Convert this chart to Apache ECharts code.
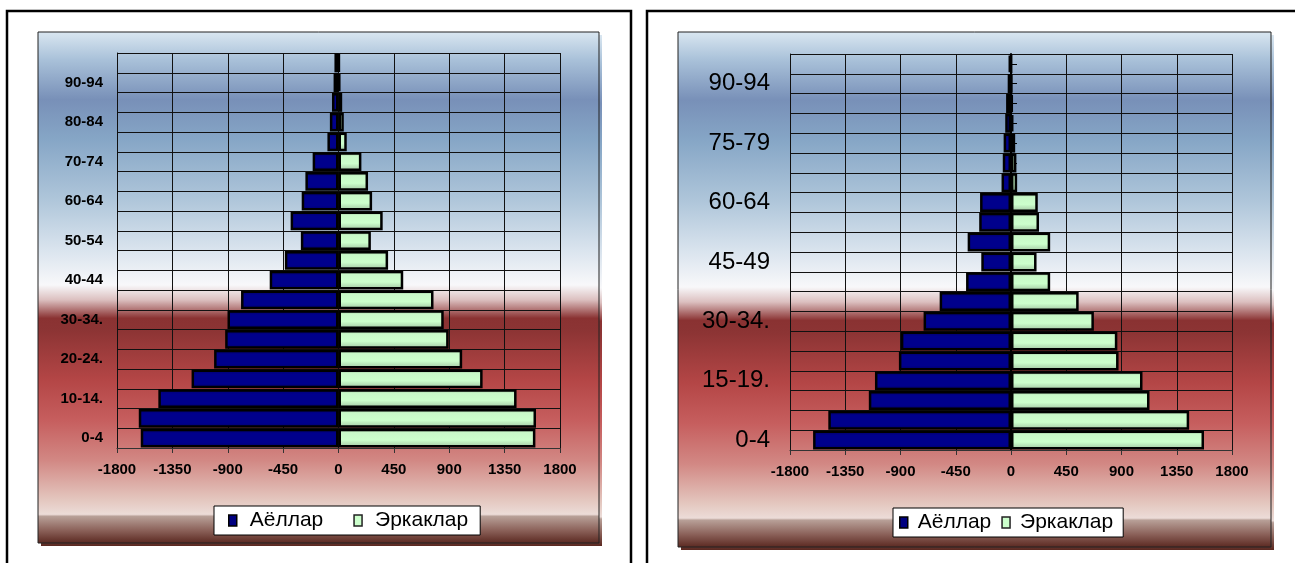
<!DOCTYPE html>
<html><head><meta charset="utf-8">
<script src="https://cdn.jsdelivr.net/npm/echarts@6/dist/echarts.min.js"></script>
<style>html,body{margin:0;padding:0;background:#fff}#c{width:1295px;height:563px}</style>
</head><body><div id="c"></div>
<script>
// ---- data ----
const ageGroups = ["0-4","5-9.","10-14.","15-19.","20-24.","25-29.","30-34.","35-39","40-44","45-49","50-54","55-59","60-64","65-69","70-74","75-79","80-84","85-89","90-94","95-99"];
const seriesNames = ["Аёллар","Эркаклар"];
const leftWomen = [-1607,-1623,-1464,-1194,-1011,-921,-902,-792,-559,-436,-306,-389,-299,-269,-210,-90,-70,-53,-40,-33];
const leftMen   = [1600,1605,1447,1171,1005,895,855,772,526,403,263,359,273,240,186,67,43,30,13,7];
const rightWomen = [-1612,-1488,-1158,-1108,-913,-897,-712,-581,-366,-242,-353,-259,-252,-77,-67,-60,-47,-40,-27,-20];
const rightMen   = [1572,1451,1128,1071,876,866,675,551,319,208,319,228,218,50,44,34,20,13,7,3];
const xMin = -1800, xMax = 1800, xStep = 450;

const FONT = "Liberation Sans, Arial, sans-serif";
const G = echarts.graphic;
function panelGrad(){
  return new G.LinearGradient(0,0,0,1,[
    {offset:0,color:'#dae7f1'},{offset:0.055,color:'#a9c1d9'},{offset:0.133,color:'#7890b8'},
    {offset:0.211,color:'#86a6c6'},{offset:0.329,color:'#afc6da'},{offset:0.427,color:'#dae4ee'},
    {offset:0.495,color:'#f8f8fa'},{offset:0.524,color:'#dcc0c0'},{offset:0.56,color:'#8a3232'},
    {offset:0.583,color:'#8c3434'},{offset:0.681,color:'#b44646'},{offset:0.759,color:'#c65e5e'},
    {offset:0.838,color:'#d28884'},{offset:0.916,color:'#e4c8c0'},{offset:0.943,color:'#ecdcd8'},
    {offset:0.947,color:'#b8a098'},{offset:0.975,color:'#8a6058'},{offset:1,color:'#5a2820'}]);
}
const blueFill = new G.LinearGradient(0,0,0,1,[{offset:0,color:'#000060'},{offset:0.25,color:'#00008c'},{offset:0.75,color:'#00008c'},{offset:1,color:'#000060'}]);
const greenFill = new G.LinearGradient(0,0,0,1,[{offset:0,color:'#7a9a7a'},{offset:0.2,color:'#c8f8c8'},{offset:0.6,color:'#ccffcc'},{offset:0.85,color:'#b0d8b0'},{offset:1,color:'#6f8f6f'}]);

function panel(x,y,w,h){
  return [
    {type:'rect', z:-20, shape:{x:x+3,y:y+3,width:w,height:h}, style:{fill:panelGrad()}},
    {type:'rect', z:-19, shape:{x:x,y:y,width:w,height:h}, style:{fill:panelGrad(), stroke:'#222', lineWidth:1}}
  ];
}

function xAxisCfg(grid){
  return {type:'value', gridIndex:grid, min:xMin, max:xMax, interval:xStep,
    axisLine:{show:true, onZero:false, lineStyle:{color:'#333', width:1}},
    axisTick:{show:true, length:5, lineStyle:{color:'#333'}},
    axisLabel:{color:'#000', fontWeight:'bold', fontSize:15, fontFamily:FONT, margin:14, formatter:v=>String(v)},
    splitLine:{show:true, lineStyle:{color:'#111', width:1}}};
}
function yAxisCfg(grid, labelInterval, fontSize, bold, margin){
  return {type:'category', gridIndex:grid, data:ageGroups,
    axisLine:{show:true, onZero:false, lineStyle:{color:'#111'}},
    axisTick:{show:false},
    axisLabel:{interval:labelInterval, color:'#000', fontSize:fontSize, fontWeight:bold?'bold':'normal', fontFamily:FONT, margin:margin},
    splitLine:{show:true, interval:0, lineStyle:{color:'#111', width:1}}};
}
function barSeries(name, data, grid, fill){
  return {type:'bar', name:name, xAxisIndex:grid, yAxisIndex:grid, data:data,
    barGap:'-100%', barCategoryGap:'4%',
    itemStyle:{color:fill, borderColor:'#000', borderWidth:2.5}};
}
function legendCfg(left, top, gap, pad, textPad){
  return {left:left, top:top, backgroundColor:'#fff', borderColor:'#000', borderWidth:1,
    padding:pad, itemGap:gap, itemWidth:8, itemHeight:11, selectedMode:false, icon:'rect',
    textStyle:{fontSize:21, fontFamily:FONT, color:'#000', padding:[0,0,0,textPad]},
    data:[{name:seriesNames[0], icon:'rect', itemStyle:{color:'#000080', borderColor:'#000', borderWidth:1.5}},
          {name:seriesNames[1], icon:'rect', itemStyle:{color:'#ccffcc', borderColor:'#222', borderWidth:1.5}}]};
}

const yRightZero = {type:'category', gridIndex:1, data:ageGroups, position:'left',
  axisLine:{show:true, onZero:true, lineStyle:{color:'#000', width:2}},
  axisTick:{show:true, inside:true, alignWithLabel:true, interval:0, length:6, lineStyle:{color:'#000'}},
  axisLabel:{show:false}, splitLine:{show:false}};

const option = {
  animation:false,
  graphic:{elements:[
    {type:'rect', z:-30, shape:{x:7,y:11,width:624,height:600}, style:{fill:'#fff', stroke:'#000', lineWidth:2.5}},
    {type:'rect', z:-30, shape:{x:647,y:11,width:700,height:600}, style:{fill:'#fff', stroke:'#000', lineWidth:2.5}},
    ...panel(38,32,561,511),
    ...panel(678,32,593,515)
  ]},
  grid:[
    {left:117, top:53, width:443, height:395},
    {left:790, top:54, width:442, height:396}
  ],
  xAxis:[xAxisCfg(0), xAxisCfg(1)],
  yAxis:[yAxisCfg(0,1,15,true,14), yAxisCfg(1,2,24,false,20), yRightZero],
  legend:[legendCfg(214,506,30,[4,12,4,14],8), legendCfg(893,508,10,[4,10,4,6],5)],
  series:[
    barSeries(seriesNames[0], leftWomen, 0, blueFill),
    barSeries(seriesNames[1], leftMen, 0, greenFill),
    barSeries(seriesNames[0], rightWomen, 1, blueFill),
    barSeries(seriesNames[1], rightMen, 1, greenFill)
  ]
};
const chart = echarts.init(document.getElementById('c'), null, {renderer:'canvas'});
chart.setOption(option);
</script></body></html>
